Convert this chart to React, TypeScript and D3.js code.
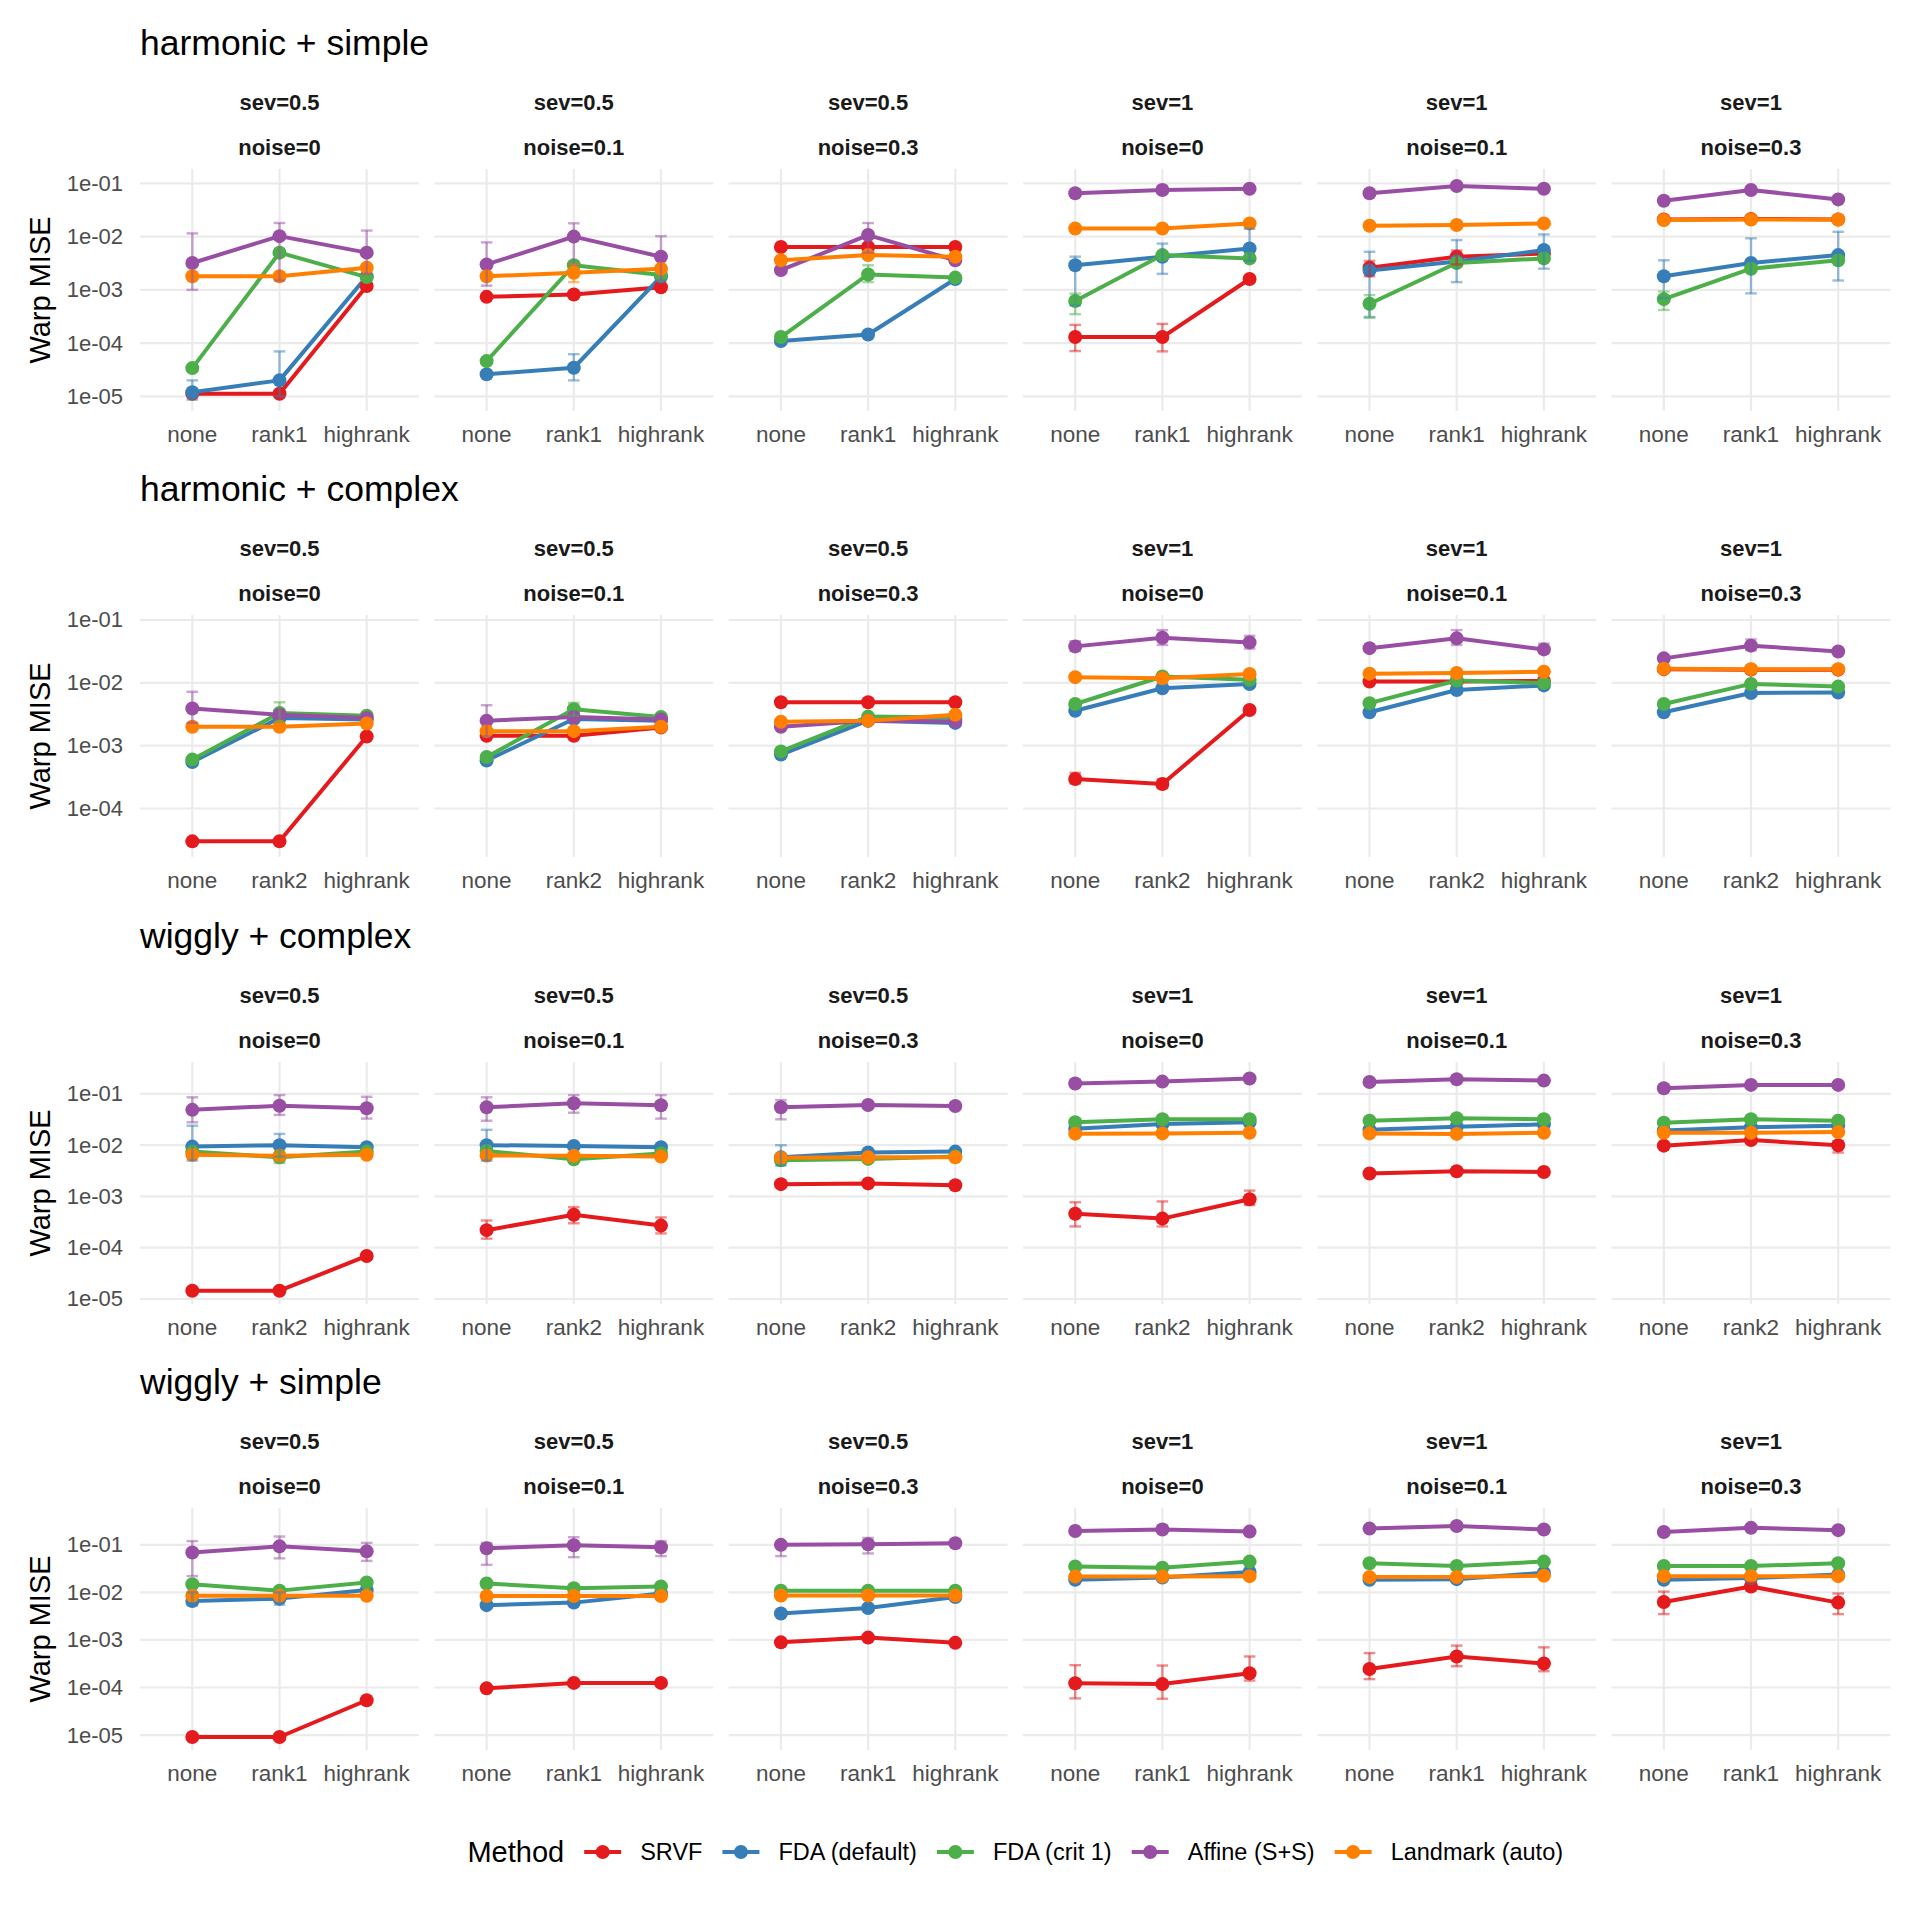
import { useEffect, useRef } from "react";
import * as d3 from "d3";

// methods and Set1 colours
const methods = ["SRVF", "FDA (default)", "FDA (crit 1)", "Affine (S+S)", "Landmark (auto)"];
const methodColors = ["#E41A1C", "#377EB8", "#4DAF4A", "#984EA3", "#FF7F00"];

const rowTitles = ["harmonic + simple", "harmonic + complex", "wiggly + complex", "wiggly + simple"];
const sevLabels = ["sev=0.5", "sev=0.5", "sev=0.5", "sev=1", "sev=1", "sev=1"];
const noiseLabels = ["noise=0", "noise=0.1", "noise=0.3", "noise=0", "noise=0.1", "noise=0.3"];
const rowCategories = [
  ["none", "rank1", "highrank"],
  ["none", "rank2", "highrank"],
  ["none", "rank2", "highrank"],
  ["none", "rank1", "highrank"],
];
const rowYTicks = [
  [1e-5, 1e-4, 1e-3, 1e-2, 1e-1],
  [1e-4, 1e-3, 1e-2, 1e-1],
  [1e-5, 1e-4, 1e-3, 1e-2, 1e-1],
  [1e-5, 1e-4, 1e-3, 1e-2, 1e-1],
];
const rowYTickLabels = [
  ["1e-05", "1e-04", "1e-03", "1e-02", "1e-01"],
  ["1e-04", "1e-03", "1e-02", "1e-01"],
  ["1e-05", "1e-04", "1e-03", "1e-02", "1e-01"],
  ["1e-05", "1e-04", "1e-03", "1e-02", "1e-01"],
];
// y limits per row (already expanded like ggplot)
const rowYLimits = [
  [5.32e-6, 0.186],
  [1.69e-5, 0.12],
  [7.98e-6, 0.42],
  [4.85e-6, 0.596],
];

// values: 6 panels x (none, mid, highrank)
// harmonic + simple
const hsSRVF = [1.12e-5, 1.12e-5, 1.18e-3, 7.4e-4, 8.2e-4, 1.12e-3, 6.4e-3, 6.4e-3, 6.4e-3, 1.3e-4, 1.3e-4, 1.6e-3, 2.6e-3, 4.2e-3, 4.8e-3, 2.1e-2, 2.15e-2, 2.1e-2];
const hsFdaDefault = [1.2e-5, 2.0e-5, 1.78e-3, 2.6e-5, 3.45e-5, 1.78e-3, 1.1e-4, 1.45e-4, 1.6e-3, 2.9e-3, 4.2e-3, 6.0e-3, 2.3e-3, 3.4e-3, 5.6e-3, 1.8e-3, 3.2e-3, 4.5e-3];
const hsFdaCrit1 = [3.4e-5, 5.0e-3, 1.74e-3, 4.6e-5, 2.9e-3, 1.9e-3, 1.3e-4, 1.95e-3, 1.7e-3, 6.2e-4, 4.5e-3, 3.9e-3, 5.5e-4, 3.2e-3, 3.9e-3, 6.7e-4, 2.5e-3, 3.6e-3];
const hsAffine = [3.2e-3, 1.02e-2, 5.0e-3, 3.0e-3, 1.0e-2, 4.2e-3, 2.35e-3, 1.07e-2, 3.6e-3, 6.5e-2, 7.5e-2, 7.9e-2, 6.5e-2, 8.9e-2, 7.9e-2, 4.7e-2, 7.5e-2, 5.0e-2];
const hsLandmark = [1.8e-3, 1.8e-3, 2.6e-3, 1.8e-3, 2.1e-3, 2.5e-3, 3.6e-3, 4.5e-3, 4.2e-3, 1.42e-2, 1.42e-2, 1.77e-2, 1.6e-2, 1.65e-2, 1.77e-2, 2.05e-2, 2.1e-2, 2.1e-2];

// harmonic + complex
const hcSRVF = [3.0e-5, 3.0e-5, 1.4e-3, 1.44e-3, 1.44e-3, 1.95e-3, 4.9e-3, 4.9e-3, 4.9e-3, 2.95e-4, 2.45e-4, 3.7e-3, 1.05e-2, 1.05e-2, 1.07e-2, 1.65e-2, 1.62e-2, 1.62e-2];
const hcFdaDefault = [5.5e-4, 2.75e-3, 2.6e-3, 5.8e-4, 2.65e-3, 2.5e-3, 7.2e-4, 2.5e-3, 2.3e-3, 3.6e-3, 8.2e-3, 9.6e-3, 3.4e-3, 7.7e-3, 9.1e-3, 3.4e-3, 6.9e-3, 7.0e-3];
const hcFdaCrit1 = [6.0e-4, 3.3e-3, 3.0e-3, 6.6e-4, 3.8e-3, 2.85e-3, 8.1e-4, 2.9e-3, 2.8e-3, 4.6e-3, 1.26e-2, 1.12e-2, 4.75e-3, 1.09e-2, 9.9e-3, 4.6e-3, 9.6e-3, 8.7e-3];
const hcAffine = [3.9e-3, 3.1e-3, 2.75e-3, 2.5e-3, 2.85e-3, 2.6e-3, 2.0e-3, 2.5e-3, 2.45e-3, 3.8e-2, 5.2e-2, 4.4e-2, 3.56e-2, 5.1e-2, 3.4e-2, 2.45e-2, 3.9e-2, 3.15e-2];
const hcLandmark = [2.0e-3, 2.0e-3, 2.25e-3, 1.7e-3, 1.7e-3, 2.0e-3, 2.4e-3, 2.5e-3, 3.1e-3, 1.23e-2, 1.18e-2, 1.38e-2, 1.4e-2, 1.43e-2, 1.5e-2, 1.68e-2, 1.65e-2, 1.65e-2];

// wiggly + complex
const wcSRVF = [1.45e-5, 1.45e-5, 6.9e-5, 2.2e-4, 4.4e-4, 2.7e-4, 1.74e-3, 1.8e-3, 1.65e-3, 4.6e-4, 3.7e-4, 8.8e-4, 2.8e-3, 3.1e-3, 3.0e-3, 9.8e-3, 1.26e-2, 1.0e-2];
const wcFdaDefault = [9.4e-3, 1.0e-2, 9.1e-3, 1.0e-2, 9.7e-3, 9.1e-3, 5.8e-3, 7.2e-3, 7.5e-3, 2.1e-2, 2.6e-2, 2.8e-2, 2.0e-2, 2.3e-2, 2.55e-2, 1.93e-2, 2.25e-2, 2.4e-2];
const wcFdaCrit1 = [7.5e-3, 5.8e-3, 7.5e-3, 7.7e-3, 5.3e-3, 6.9e-3, 5.1e-3, 5.4e-3, 6.0e-3, 2.8e-2, 3.2e-2, 3.2e-2, 3.0e-2, 3.35e-2, 3.2e-2, 2.75e-2, 3.2e-2, 3.0e-2];
const wcAffine = [4.9e-2, 5.9e-2, 5.25e-2, 5.5e-2, 6.6e-2, 6.0e-2, 5.5e-2, 6.1e-2, 5.8e-2, 1.6e-1, 1.74e-1, 2.0e-1, 1.71e-1, 1.93e-1, 1.82e-1, 1.29e-1, 1.5e-1, 1.5e-1];
const wcLandmark = [6.5e-3, 6.2e-3, 6.5e-3, 6.3e-3, 6.2e-3, 6.0e-3, 5.7e-3, 5.8e-3, 5.8e-3, 1.68e-2, 1.7e-2, 1.75e-2, 1.7e-2, 1.66e-2, 1.75e-2, 1.75e-2, 1.75e-2, 1.8e-2];

// wiggly + simple
const wsSRVF = [9.1e-6, 9.1e-6, 5.4e-5, 9.6e-5, 1.25e-4, 1.25e-4, 8.9e-4, 1.12e-3, 8.7e-4, 1.23e-4, 1.18e-4, 2.0e-4, 2.45e-4, 4.5e-4, 3.2e-4, 6.3e-3, 1.33e-2, 6.1e-3];
const wsFdaDefault = [6.6e-3, 7.4e-3, 1.12e-2, 5.4e-3, 6.1e-3, 9.5e-3, 3.6e-3, 4.7e-3, 8.0e-3, 1.85e-2, 2.05e-2, 2.7e-2, 1.85e-2, 1.9e-2, 2.6e-2, 1.85e-2, 2.0e-2, 2.37e-2];
const wsFdaCrit1 = [1.49e-2, 1.09e-2, 1.62e-2, 1.54e-2, 1.23e-2, 1.33e-2, 1.09e-2, 1.09e-2, 1.09e-2, 3.5e-2, 3.3e-2, 4.45e-2, 4.1e-2, 3.6e-2, 4.45e-2, 3.6e-2, 3.6e-2, 4.1e-2];
const wsAffine = [6.9e-2, 9.3e-2, 7.3e-2, 8.5e-2, 9.8e-2, 8.9e-2, 1.0e-1, 1.03e-1, 1.08e-1, 1.96e-1, 2.1e-1, 1.9e-1, 2.2e-1, 2.5e-1, 2.1e-1, 1.87e-1, 2.28e-1, 2.04e-1];
const wsLandmark = [8.5e-3, 8.5e-3, 8.5e-3, 8.4e-3, 8.4e-3, 8.4e-3, 8.6e-3, 8.6e-3, 8.6e-3, 2.15e-2, 2.15e-2, 2.2e-2, 2.1e-2, 2.1e-2, 2.25e-2, 2.2e-2, 2.2e-2, 2.2e-2];

const rowSeries = [
  [hsSRVF, hsFdaDefault, hsFdaCrit1, hsAffine, hsLandmark],
  [hcSRVF, hcFdaDefault, hcFdaCrit1, hcAffine, hcLandmark],
  [wcSRVF, wcFdaDefault, wcFdaCrit1, wcAffine, wcLandmark],
  [wsSRVF, wsFdaDefault, wsFdaCrit1, wsAffine, wsLandmark],
];

// visible error bars: [row, panel, method, category, low, high]
const errorBars = [
  [0, 0, 3, 0, 1.0e-3, 1.15e-2], [0, 0, 3, 1, 1.5e-3, 1.8e-2], [0, 0, 3, 2, 2.0e-3, 1.3e-2],
  [0, 0, 1, 0, 8.7e-6, 2.0e-5], [0, 0, 1, 1, 1.0e-5, 7.0e-5],
  [0, 1, 3, 0, 1.2e-3, 7.8e-3], [0, 1, 3, 1, 3.0e-3, 1.78e-2], [0, 1, 3, 2, 1.5e-3, 1.02e-2],
  [0, 1, 1, 1, 2.0e-5, 6.2e-5], [0, 1, 4, 1, 1.4e-3, 3.0e-3],
  [0, 2, 3, 1, 5.0e-3, 1.8e-2], [0, 2, 2, 1, 1.4e-3, 2.9e-3],
  [0, 3, 3, 1, 6.5e-2, 9.0e-2], [0, 3, 1, 0, 5.1e-4, 4.2e-3], [0, 3, 1, 1, 2.0e-3, 7.4e-3],
  [0, 3, 1, 2, 3.5e-3, 1.4e-2], [0, 3, 2, 0, 3.5e-4, 8.5e-4], [0, 3, 0, 0, 7.1e-5, 2.2e-4],
  [0, 3, 0, 1, 7.0e-5, 2.3e-4],
  [0, 4, 1, 0, 3.1e-4, 5.2e-3], [0, 4, 1, 1, 1.4e-3, 8.6e-3], [0, 4, 1, 2, 2.5e-3, 1.1e-2],
  [0, 4, 0, 0, 1.8e-3, 3.5e-3], [0, 4, 0, 1, 3.0e-3, 5.5e-3], [0, 4, 2, 0, 3.0e-4, 8.0e-4],
  [0, 5, 1, 0, 7.0e-4, 3.6e-3], [0, 5, 1, 1, 8.6e-4, 9.3e-3], [0, 5, 1, 2, 1.5e-3, 1.23e-2],
  [0, 5, 2, 0, 4.2e-4, 9.3e-4],
  [1, 0, 3, 0, 2.3e-3, 7.2e-3], [1, 0, 2, 1, 2.4e-3, 4.9e-3],
  [1, 1, 3, 0, 1.4e-3, 4.4e-3], [1, 1, 2, 1, 3.0e-3, 4.8e-3],
  [1, 3, 3, 0, 3.2e-2, 4.6e-2], [1, 3, 3, 1, 4.0e-2, 6.9e-2], [1, 3, 3, 2, 3.5e-2, 5.6e-2],
  [1, 3, 0, 0, 2.5e-4, 3.7e-4], [1, 3, 0, 1, 2.1e-4, 2.9e-4],
  [1, 4, 3, 1, 4.0e-2, 6.9e-2], [1, 4, 3, 2, 3.0e-2, 4.2e-2],
  [1, 5, 3, 1, 3.3e-2, 4.9e-2],
  [2, 0, 3, 0, 2.8e-2, 8.6e-2], [2, 0, 3, 1, 3.9e-2, 9.5e-2], [2, 0, 3, 2, 3.3e-2, 8.8e-2],
  [2, 0, 1, 0, 5.0e-3, 2.4e-2], [2, 0, 1, 1, 6.0e-3, 1.66e-2], [2, 0, 2, 1, 4.5e-3, 7.5e-3],
  [2, 1, 3, 0, 3.0e-2, 8.6e-2], [2, 1, 3, 1, 4.3e-2, 9.5e-2], [2, 1, 3, 2, 3.3e-2, 9.5e-2],
  [2, 1, 1, 0, 5.0e-3, 2.0e-2], [2, 1, 0, 0, 1.5e-4, 3.4e-4], [2, 1, 0, 1, 3.0e-4, 6.2e-4],
  [2, 1, 0, 2, 1.9e-4, 3.9e-4],
  [2, 2, 3, 0, 3.2e-2, 7.6e-2], [2, 2, 1, 0, 4.0e-3, 1.0e-2],
  [2, 3, 3, 0, 1.4e-1, 1.9e-1], [2, 3, 0, 0, 2.6e-4, 7.7e-4], [2, 3, 0, 1, 2.6e-4, 8.0e-4],
  [2, 3, 0, 2, 6.8e-4, 1.3e-3],
  [2, 5, 0, 2, 7.2e-3, 1.2e-2],
  [3, 0, 3, 0, 2.2e-2, 1.2e-1], [3, 0, 3, 1, 5.2e-2, 1.5e-1], [3, 0, 3, 2, 4.6e-2, 1.1e-1],
  [3, 0, 1, 0, 5.3e-3, 1.0e-2], [3, 0, 1, 1, 5.5e-3, 1.0e-2],
  [3, 1, 3, 0, 3.8e-2, 1.1e-1], [3, 1, 3, 1, 5.5e-2, 1.45e-1], [3, 1, 3, 2, 5.8e-2, 1.2e-1],
  [3, 2, 3, 0, 5.8e-2, 1.0e-1], [3, 2, 3, 1, 6.6e-2, 1.4e-1],
  [3, 3, 0, 0, 5.9e-5, 2.95e-4], [3, 3, 0, 1, 5.8e-5, 2.9e-4], [3, 3, 0, 2, 1.4e-4, 4.5e-4],
  [3, 3, 3, 1, 1.9e-1, 2.6e-1],
  [3, 4, 0, 0, 1.5e-4, 5.3e-4], [3, 4, 0, 1, 2.8e-4, 7.6e-4], [3, 4, 0, 2, 2.2e-4, 7.0e-4],
  [3, 5, 0, 0, 3.5e-3, 1.04e-2], [3, 5, 0, 1, 1.1e-2, 1.6e-2], [3, 5, 0, 2, 3.5e-3, 9.5e-3],
];

const FONT = "'Liberation Sans', Arial, Helvetica, sans-serif";

export default function App() {
  const svgRef = useRef<SVGSVGElement>(null);

  useEffect(() => {
    if (!svgRef.current) return;
    const svg = d3.select(svgRef.current);
    svg.selectAll("*").remove();
    svg.attr("font-family", FONT);

    const panelLeft0 = 140;
    const panelW = 279;
    const panelStep = 294.3;
    const rowTops = [169, 615, 1062, 1508];
    const panelH = 242;
    const lineW = 4;
    const pointR = 7;

    rowTitles.forEach((title, r) => {
      const top = rowTops[r];
      const bottom = top + panelH;
      const cats = rowCategories[r];
      const y = d3.scaleLog().domain(rowYLimits[r]).range([bottom, top]);

      const rowG = svg.append("g");

      rowG.append("text")
        .attr("x", panelLeft0)
        .attr("y", top - 114)
        .attr("font-size", 35.5)
        .attr("fill", "#000")
        .text(title);

      rowG.append("text")
        .attr("transform", `translate(40, ${top + panelH / 2}) rotate(-90)`)
        .attr("text-anchor", "middle")
        .attr("dominant-baseline", "central")
        .attr("font-size", 29)
        .attr("fill", "#000")
        .text("Warp MISE");

      rowYTicks[r].forEach((t, i) => {
        rowG.append("text")
          .attr("x", 123)
          .attr("y", y(t))
          .attr("text-anchor", "end")
          .attr("dominant-baseline", "central")
          .attr("font-size", 22)
          .attr("fill", "#4D4D4D")
          .text(rowYTickLabels[r][i]);
      });

      sevLabels.forEach((sev, p) => {
        const left = panelLeft0 + p * panelStep;
        const x = d3.scalePoint<string>().domain(cats).range([left, left + panelW]).padding(0.6);
        const g = rowG.append("g");
        const cx = left + panelW / 2;

        g.append("text")
          .attr("x", cx).attr("y", top - 67)
          .attr("text-anchor", "middle").attr("dominant-baseline", "central")
          .attr("font-size", 22).attr("font-weight", "bold").attr("fill", "#1A1A1A")
          .text(sev);
        g.append("text")
          .attr("x", cx).attr("y", top - 22)
          .attr("text-anchor", "middle").attr("dominant-baseline", "central")
          .attr("font-size", 22).attr("font-weight", "bold").attr("fill", "#1A1A1A")
          .text(noiseLabels[p]);

        // grid
        g.selectAll("line.hgrid")
          .data(rowYTicks[r])
          .enter()
          .append("line")
          .attr("x1", left).attr("x2", left + panelW)
          .attr("y1", (d) => y(d)).attr("y2", (d) => y(d))
          .attr("stroke", "#EBEBEB").attr("stroke-width", 2.2);
        g.selectAll("line.vgrid")
          .data(cats)
          .enter()
          .append("line")
          .attr("x1", (d) => x(d)!).attr("x2", (d) => x(d)!)
          .attr("y1", top).attr("y2", bottom)
          .attr("stroke", "#EBEBEB").attr("stroke-width", 2.2);

        // x labels
        g.selectAll("text.xl")
          .data(cats)
          .enter()
          .append("text")
          .attr("x", (d) => x(d)!)
          .attr("y", bottom + 23)
          .attr("text-anchor", "middle").attr("dominant-baseline", "central")
          .attr("font-size", 22.5).attr("fill", "#4D4D4D")
          .text((d) => d);

        const series = rowSeries[r].map((vals) => vals.slice(p * 3, p * 3 + 3));
        const line = d3.line<number>()
          .x((_, i) => x(cats[i])!)
          .y((d) => y(d));

        series.forEach((vals, m) => {
          g.append("path")
            .datum(vals)
            .attr("fill", "none")
            .attr("stroke", methodColors[m])
            .attr("stroke-width", lineW)
            .attr("stroke-linejoin", "round")
            .attr("d", line);
        });
        series.forEach((vals, m) => {
          g.selectAll(`circle.m${m}`)
            .data(vals)
            .enter()
            .append("circle")
            .attr("cx", (_, i) => x(cats[i])!)
            .attr("cy", (d) => y(d))
            .attr("r", pointR)
            .attr("fill", methodColors[m]);
        });

        const bars = errorBars.filter((e) => e[0] === r && e[1] === p);
        const capHalf = 5.8;
        bars.forEach(([, , m, c, lo, hi]) => {
          const bx = x(cats[c])!;
          const eg = g.append("g")
            .attr("stroke", methodColors[m])
            .attr("stroke-opacity", 0.5)
            .attr("stroke-width", 2.4);
          eg.append("line").attr("x1", bx).attr("x2", bx).attr("y1", y(lo)).attr("y2", y(hi));
          eg.append("line").attr("x1", bx - capHalf).attr("x2", bx + capHalf).attr("y1", y(lo)).attr("y2", y(lo));
          eg.append("line").attr("x1", bx - capHalf).attr("x2", bx + capHalf).attr("y1", y(hi)).attr("y2", y(hi));
        });
      });
    });

    // legend
    const legendY = 1852;
    const legend = svg.append("g");
    const title = legend.append("text")
      .attr("x", 0).attr("y", legendY)
      .attr("dominant-baseline", "central")
      .attr("font-size", 29).attr("fill", "#000")
      .text("Method");
    let cursor = (title.node() as SVGTextElement).getComputedTextLength() + 20;
    methods.forEach((name, m) => {
      legend.append("line")
        .attr("x1", cursor).attr("x2", cursor + 37)
        .attr("y1", legendY).attr("y2", legendY)
        .attr("stroke", methodColors[m]).attr("stroke-width", lineW);
      legend.append("circle")
        .attr("cx", cursor + 18.5).attr("cy", legendY).attr("r", pointR)
        .attr("fill", methodColors[m]);
      const t = legend.append("text")
        .attr("x", cursor + 56).attr("y", legendY)
        .attr("dominant-baseline", "central")
        .attr("font-size", 23.5).attr("fill", "#000")
        .text(name);
      cursor += 56 + (t.node() as SVGTextElement).getComputedTextLength() + 20;
    });
    const totalW = cursor - 20;
    const centre = panelLeft0 + (5 * panelStep + panelW) / 2;
    legend.attr("transform", `translate(${centre - totalW / 2}, 0)`);
  }, []);

  return (
    <svg
      ref={svgRef}
      width={1920}
      height={1920}
      style={{ position: "absolute", left: 0, top: 0, background: "#fff" }}
    />
  );
}
